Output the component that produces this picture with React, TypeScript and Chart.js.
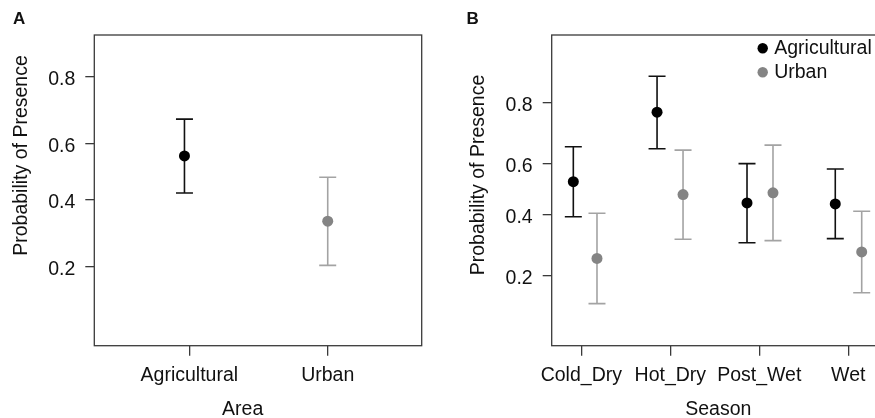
import React, { useEffect, useRef } from 'react';
import { Chart, registerables } from 'chart.js';

Chart.register(...registerables);

const FONT = '"Liberation Sans", Arial, Helvetica, sans-serif';
Chart.defaults.font.family = FONT;

// ---------- data (probabilities) ----------
const seriesNames = ['Agricultural', 'Urban'];
const probTicks = [0.2, 0.4, 0.6, 0.8];

// Panel A: by area
const areaCategories = ['Agricultural', 'Urban'];
const areaPointPos = [0.965, 2.0];
const areaMean = [0.557, 0.326];
const areaLower = [0.422, 0.202];
const areaUpper = [0.683, 0.479];

// Panel B: by season
const seasonCategories = ['Cold_Dry', 'Hot_Dry', 'Post_Wet', 'Wet'];
const agriSeasonPos = [0.91, 1.851, 2.862, 3.854];
const agriMean = [0.53, 0.775, 0.445, 0.441];
const agriLower = [0.391, 0.657, 0.297, 0.311];
const agriUpper = [0.664, 0.86, 0.601, 0.58];
const urbanSeasonPos = [1.176, 2.143, 3.154, 4.151];
const urbanMean = [0.247, 0.478, 0.485, 0.267];
const urbanLower = [0.137, 0.309, 0.304, 0.159];
const urbanUpper = [0.404, 0.652, 0.67, 0.412];

const logit = (p: number) => Math.log(p / (1 - p));

const AGRI_DOT = '#000000';
const AGRI_BAR = '#111111';
const URBAN_DOT = '#848484';
const URBAN_BAR = '#a3a3a3';
const FRAME = '#3a3a3a';
const TEXT = '#111111';

function makeDataset(label: string, pos: number[], mean: number[], lo: number[], hi: number[], dot: string, bar: string) {
  return {
    label,
    data: pos.map((x, i) => ({ x, y: logit(mean[i]) })),
    lower: lo.map(logit),
    upper: hi.map(logit),
    barColor: bar,
    backgroundColor: dot,
    borderColor: dot,
    pointRadius: 5.5,
    pointBorderWidth: 0,
    pointHoverRadius: 5.5,
    showLine: false,
  };
}

const errorBarPlugin = {
  id: 'errorBars',
  beforeDatasetsDraw(chart: any) {
    const { ctx } = chart;
    const xs = chart.scales.x;
    const ys = chart.scales.y;
    chart.data.datasets.forEach((ds: any) => {
      ctx.save();
      ctx.strokeStyle = ds.barColor;
      ctx.lineWidth = 1.6;
      ds.data.forEach((pt: any, i: number) => {
        const x = xs.getPixelForValue(pt.x);
        const yl = ys.getPixelForValue(ds.lower[i]);
        const yu = ys.getPixelForValue(ds.upper[i]);
        const cap = 8.5;
        ctx.beginPath();
        ctx.moveTo(x, yl);
        ctx.lineTo(x, yu);
        ctx.moveTo(x - cap, yl);
        ctx.lineTo(x + cap, yl);
        ctx.moveTo(x - cap, yu);
        ctx.lineTo(x + cap, yu);
        ctx.stroke();
      });
      ctx.restore();
    });
  },
};

const framePlugin = {
  id: 'frame',
  afterDatasetsDraw(chart: any) {
    const { ctx, chartArea: a } = chart;
    ctx.save();
    ctx.strokeStyle = FRAME;
    ctx.lineWidth = 1.3;
    ctx.strokeRect(a.left, a.top, a.right - a.left, a.bottom - a.top);
    ctx.restore();
  },
};

const decorPlugin = {
  id: 'decor',
  afterDraw(chart: any, _args: any, opts: any) {
    const { ctx, chartArea: a } = chart;
    ctx.save();
    ctx.fillStyle = TEXT;
    // panel letter
    ctx.font = `bold 17px ${FONT}`;
    ctx.textAlign = 'left';
    ctx.textBaseline = 'alphabetic';
    ctx.fillText(opts.panel, opts.panelX, opts.panelY);
    // axis titles
    ctx.font = `19.5px ${FONT}`;
    ctx.textAlign = 'center';
    ctx.fillText(opts.xTitle, opts.xTitleX, opts.xTitleY);
    ctx.save();
    ctx.translate(opts.yTitleX, opts.yTitleY);
    ctx.rotate(-Math.PI / 2);
    ctx.fillText(opts.yTitle, 0, 0);
    ctx.restore();
    // legend
    if (opts.legend) {
      const lx = a.left + opts.legendDx;
      let ly = a.top + opts.legendDy;
      chart.data.datasets.forEach((ds: any) => {
        ctx.fillStyle = ds.backgroundColor;
        ctx.beginPath();
        ctx.arc(lx, ly, 5.2, 0, Math.PI * 2);
        ctx.fill();
        ctx.fillStyle = TEXT;
        ctx.textAlign = 'left';
        ctx.textBaseline = 'middle';
        ctx.fillText(ds.label, lx + 11.5, ly + 0.5);
        ly += 24;
      });
    }
    ctx.restore();
  },
};

function makeConfig(p: any) {
  return {
    type: 'scatter',
    data: { datasets: p.datasets },
    plugins: [errorBarPlugin, framePlugin, decorPlugin],
    options: {
      animation: false,
      responsive: false,
      events: [],
      layout: { padding: p.padding },
      plugins: {
        legend: { display: false },
        tooltip: { enabled: false },
        decor: p.decor,
      },
      scales: {
        x: {
          type: 'linear',
          min: p.xMin,
          max: p.xMax,
          afterFit: (s: any) => { s.height = p.xHeight; },
          afterBuildTicks: (s: any) => { s.ticks = p.xTickVals.map((v: number) => ({ value: v })); },
          border: { display: false },
          grid: { drawOnChartArea: false, drawTicks: true, tickLength: 10, color: FRAME, lineWidth: 1.3 },
          ticks: {
            autoSkip: false,
            maxRotation: 0,
            padding: 8,
            color: TEXT,
            font: { size: 19.5, family: FONT },
            callback: (_v: any, i: number) => p.xLabels[i],
          },
        },
        y: {
          type: 'linear',
          min: p.yMin,
          max: p.yMax,
          afterFit: (s: any) => { s.width = p.yWidth; },
          afterBuildTicks: (s: any) => { s.ticks = probTicks.map((v) => ({ value: logit(v) })); },
          border: { display: false },
          grid: { drawOnChartArea: false, drawTicks: true, tickLength: 9, color: FRAME, lineWidth: 1.3 },
          ticks: {
            padding: 10,
            labelOffset: 3,
            color: TEXT,
            font: { size: 19.5, family: FONT },
            callback: (_v: any, i: number) => probTicks[i].toFixed(1),
          },
        },
      },
    },
  };
}

function Panel(props: { config: any; left: number; width: number }) {
  const ref = useRef<HTMLCanvasElement>(null);
  useEffect(() => {
    if (!ref.current) return;
    const chart = new Chart(ref.current, props.config);
    return () => chart.destroy();
  }, []);
  return (
    <canvas
      ref={ref}
      width={props.width}
      height={418}
      style={{ position: 'absolute', left: props.left, top: 0, width: props.width, height: 418 }}
    />
  );
}

const configA = makeConfig({
  datasets: [
    makeDataset(seriesNames[0], [areaPointPos[0]], [areaMean[0]], [areaLower[0]], [areaUpper[0]], AGRI_DOT, AGRI_BAR),
    makeDataset(seriesNames[1], [areaPointPos[1]], [areaMean[1]], [areaLower[1]], [areaUpper[1]], URBAN_DOT, URBAN_BAR),
  ],
  padding: { top: 35, left: 0, right: 18.3, bottom: 0 },
  yWidth: 94.3,
  xHeight: 72.3,
  xMin: 0.3136,
  xMax: 2.679,
  yMin: -2.55,
  yMax: 2.0,
  xTickVals: [1, 2],
  xLabels: areaCategories,
  decor: {
    panel: 'A', panelX: 13, panelY: 23.5,
    xTitle: 'Area', xTitleX: 242.7, xTitleY: 415,
    yTitle: 'Probability of Presence', yTitleX: 27.3, yTitleY: 155.5,
    legend: false,
  },
});

const configB = makeConfig({
  datasets: [
    makeDataset(seriesNames[0], agriSeasonPos, agriMean, agriLower, agriUpper, AGRI_DOT, AGRI_BAR),
    makeDataset(seriesNames[1], urbanSeasonPos, urbanMean, urbanLower, urbanUpper, URBAN_DOT, URBAN_BAR),
  ],
  padding: { top: 35, left: 0, right: 30, bottom: 0 },
  yWidth: 111.7,
  xHeight: 72.3,
  xMin: 0.667,
  xMax: 4.469,
  yMin: -2.517,
  yMax: 2.478,
  xTickVals: [1, 2, 3, 4],
  xLabels: seasonCategories,
  decor: {
    panel: 'B', panelX: 26.5, panelY: 23.5,
    xTitle: 'Season', xTitleX: 278.3, xTitleY: 415,
    yTitle: 'Probability of Presence', yTitleX: 44, yTitleY: 175,
    legend: true, legendDx: 211, legendDy: 13.3,
  },
});

export default function App() {
  return (
    <div
      style={{
        position: 'absolute',
        left: 0,
        top: 0,
        width: 875,
        height: 418,
        overflow: 'hidden',
        background: '#ffffff',
      }}
    >
      <Panel config={configA} left={0} width={440} />
      <Panel config={configB} left={440} width={480} />
    </div>
  );
}
